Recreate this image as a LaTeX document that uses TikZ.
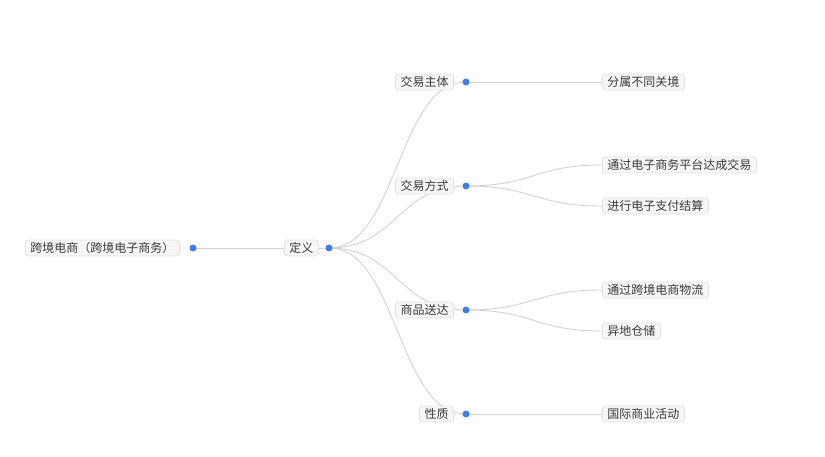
\documentclass[tikz,border=0pt]{standalone}
\usepackage{fontspec}
\newfontfamily\cjk{Noto Sans CJK SC}
\definecolor{TopicText}{HTML}{3A3A3A}
\definecolor{TopicFill}{HTML}{F6F6F6}
\definecolor{TopicLine}{HTML}{E2E2E2}
\definecolor{LinkGray}{HTML}{D2D2D2}
\definecolor{DotBlue}{HTML}{3A80E8}
\usetikzlibrary{
  positioning,
  calc,
  backgrounds
}

% horizontal s-curve between two points
\newcommand{\mmlink}[2]{%
  \path (#1) -- coordinate[pos=.5] (mm) (#2);
  \draw[link] (#1) .. controls (mm |- #1) and (mm |- #2) .. (#2);
}

\begin{document}
\begin{tikzpicture}[
  x=1pt, y=-1pt,
  topic/.style={
    rectangle, rounded corners=3pt,
    draw=TopicLine, fill=TopicFill, line width=0.8pt,
    minimum height=16pt, inner xsep=5pt, inner ysep=1pt,
    font=\cjk\fontsize{12}{13}\selectfont, text=TopicText
  },
  dot/.style={
    circle, fill=DotBlue, inner sep=0pt, minimum size=7pt
  },
  link/.style={
    draw=LinkGray, line width=0.9pt
  }
]
  \useasboundingbox (0,0) rectangle (825,457);

  \node[topic, anchor=west] (root) at (25,248) {跨境电商（跨境电子商务）};
  \node[dot] (d0) at (193,248) {};
  \node[topic, anchor=west] (def) at (284,248) {定义};
  \node[dot] (dd) at (329,248) {};

  \node[topic, anchor=east] (party) at (454,82) {交易主体};
  \node[topic, anchor=east] (mode) at (454,186) {交易方式};
  \node[topic, anchor=east] (ship) at (454,310) {商品送达};
  \node[topic, anchor=east] (kind) at (454,414) {性质};
  \node[dot] (dparty) at (466,82) {};
  \node[dot] (dmode) at (466,186) {};
  \node[dot] (dship) at (466,310) {};
  \node[dot] (dkind) at (466,414) {};

  \node[topic, anchor=west] (customs) at (602,82) {分属不同关境};
  \node[topic, anchor=west] (platform) at (602,165) {通过电子商务平台达成交易};
  \node[topic, anchor=west] (payment) at (602,206) {进行电子支付结算};
  \node[topic, anchor=west] (logistics) at (602,290) {通过跨境电商物流};
  \node[topic, anchor=west] (storage) at (602,331) {异地仓储};
  \node[topic, anchor=west] (trade) at (602,414) {国际商业活动};

  \begin{scope}[on background layer]
    \mmlink{d0.center}{dd.center}
    \mmlink{dd.center}{dparty.center}
    \mmlink{dd.center}{dmode.center}
    \mmlink{dd.center}{dship.center}
    \mmlink{dd.center}{dkind.center}
    \mmlink{dparty.center}{customs.west}
    \mmlink{dmode.center}{platform.west}
    \mmlink{dmode.center}{payment.west}
    \mmlink{dship.center}{logistics.west}
    \mmlink{dship.center}{storage.west}
    \mmlink{dkind.center}{trade.west}
  \end{scope}
\end{tikzpicture}
\end{document}
